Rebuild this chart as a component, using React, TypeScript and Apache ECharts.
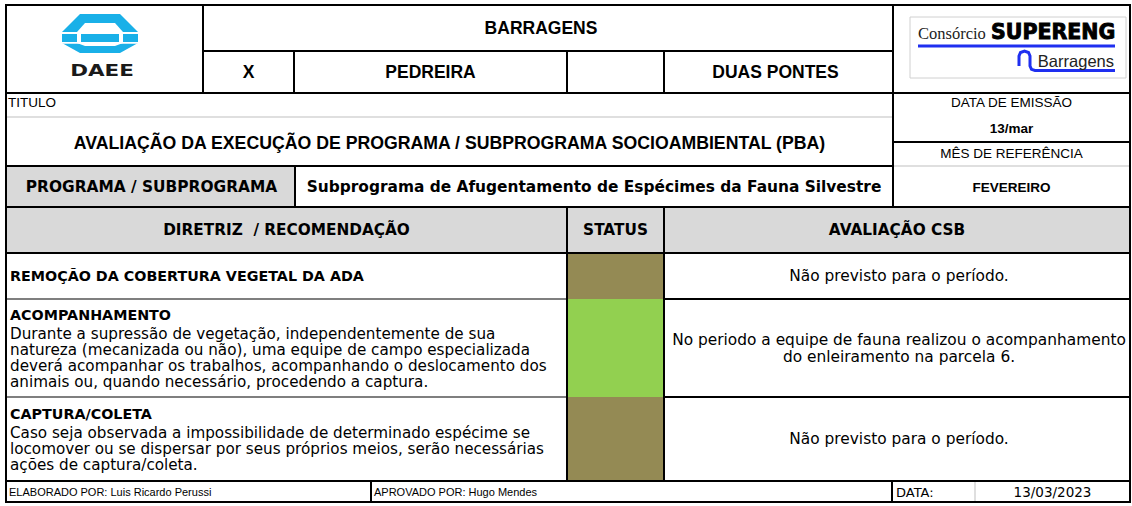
import React, { useEffect, useRef } from "react";
import * as echarts from "echarts";

// ---------- content ----------
const topHeader = "BARRAGENS";
const damOptions = ["X", "PEDREIRA", "", "DUAS PONTES"];
const titleLabel = "TITULO";
const titleText = "AVALIAÇÃO DA EXECUÇÃO DE PROGRAMA / SUBPROGRAMA SOCIOAMBIENTAL (PBA)";
const sideLabels = ["DATA DE EMISSÃO", "13/mar", "MÊS DE REFERÊNCIA", "FEVEREIRO"];
const programLabel = "PROGRAMA / SUBPROGRAMA";
const programName = "Subprograma de Afugentamento de Espécimes da Fauna Silvestre";
const columnHeaders = ["DIRETRIZ  / RECOMENDAÇÃO", "STATUS", "AVALIAÇÃO CSB"];
const rowTitles = ["REMOÇÃO DA COBERTURA VEGETAL DA ADA", "ACOMPANHAMENTO", "CAPTURA/COLETA"];
const rowBodies: string[][] = [
  [],
  [
    "Durante a supressão de vegetação, independentemente de sua",
    "natureza (mecanizada ou não), uma equipe de campo especializada",
    "deverá acompanhar os trabalhos, acompanhando o deslocamento dos",
    "animais ou, quando necessário, procedendo a captura.",
  ],
  [
    "Caso seja observada a impossibilidade de determinado espécime se",
    "locomover ou se dispersar por seus próprios meios, serão necessárias",
    "ações de captura/coleta.",
  ],
];
const rowStatus = ["naoPrevisto", "realizado", "naoPrevisto"];
const rowEvaluation: string[][] = [
  ["Não previsto para o período."],
  ["No periodo a equipe de fauna realizou o acompanhamento", "do enleiramento na parcela 6."],
  ["Não previsto para o período."],
];
const footerTexts = ["ELABORADO POR: Luis Ricardo Perussi", "APROVADO POR: Hugo Mendes", "DATA:", "13/03/2023"];
const logoLeftText = "DAEE";
const logoRightTexts = ["Consórcio", "SUPERENG", "Barragens"];

// ---------- layout ----------
const W = 1132;
const H = 506;
const X0 = 6, X1 = 1130;
const colDaee = 203, colX = 294, colProg = 295, colStatusL = 567, colStatusR = 664, colRight = 893;
const rowY = [253, 299, 397, 481];
const STATUS_COLORS: Record<string, string> = { naoPrevisto: "#948A54", realizado: "#92D050" };
const ARIAL = '"Liberation Sans", Arial, sans-serif';
const VERDANA = '"DejaVu Sans", Verdana, sans-serif';
const SERIF = '"Liberation Serif", "Times New Roman", serif';

function txt(x: number, y: number, text: string, font: string, align = "center", extra: any = {}) {
  return {
    type: "text",
    x,
    y,
    silent: true,
    ...extra,
    style: {
      text,
      font,
      fill: extra.fill || "#000",
      align,
      verticalAlign: "middle",
      textAlign: align,
      textVerticalAlign: "middle",
      ...(extra.style || {}),
    },
  };
}
function ln(x1: number, y1: number, x2: number, y2: number, stroke = "#000", lineWidth = 2) {
  return { type: "line", silent: true, shape: { x1, y1, x2, y2 }, style: { stroke, lineWidth } };
}
function box(x: number, y: number, w: number, h: number, fill: string) {
  return { type: "rect", silent: true, shape: { x, y, width: w, height: h }, style: { fill } };
}

function buildGraphic() {
  const g: any[] = [];
  g.push(box(0, 0, W, H, "#fff"));
  // fills
  g.push(box(X0, 166, colProg - X0, 41, "#D9D9D9"));
  g.push(box(X0, 207, X1 - X0, 46, "#D9D9D9"));
  rowStatus.forEach((s, i) => {
    g.push(box(colStatusL, rowY[i], colStatusR - colStatusL, rowY[i + 1] - rowY[i], STATUS_COLORS[s]));
  });

  // light / gray lines
  g.push(ln(X0, 117, colRight, 117, "#D4D4D4", 1.5));
  g.push(ln(colRight, 166, X1, 166, "#D4D4D4", 1.5));
  g.push(ln(975, 481, 975, 502, "#D4D4D4", 1.5));
  g.push(ln(X0, rowY[1], colStatusL, rowY[1], "#7F7F7F", 2));
  g.push(ln(X0, rowY[2], colStatusL, rowY[2], "#7F7F7F", 2));

  // black lines
  const hl: number[][] = [
    [X0, 5, X1, 5], [colDaee, 51, colRight, 51], [X0, 93, X1, 93], [X0, 166, colRight, 166],
    [colRight, 142, X1, 142], [X0, 207, X1, 207], [X0, 253, X1, 253],
    [colStatusR, rowY[1], X1, rowY[1]], [colStatusR, rowY[2], X1, rowY[2]],
    [X0, 481, X1, 481], [X0, 502, X1, 502],
  ];
  const vl: number[][] = [
    [X0, 4, X0, 503], [X1, 4, X1, 503], [colDaee, 5, colDaee, 93], [colX, 51, colX, 93],
    [colStatusL, 51, colStatusL, 93], [colStatusR, 51, colStatusR, 93], [colRight, 5, colRight, 207],
    [colProg, 166, colProg, 207], [colStatusL, 207, colStatusL, 481], [colStatusR, 207, colStatusR, 481],
    [371, 481, 371, 502], [892, 481, 892, 502],
  ];
  hl.forEach((l) => g.push(ln(l[0], l[1], l[2], l[3])));
  vl.forEach((l) => g.push(ln(l[0], l[1], l[2], l[3])));

  // header texts
  g.push(txt(541, 28, topHeader, `bold 17.5px ${ARIAL}`));
  const optCenters = [(colDaee + colX) / 2, (colX + colStatusL) / 2, (colStatusL + colStatusR) / 2, (colStatusR + colRight) / 2 - 3];
  damOptions.forEach((t, i) => {
    if (t) g.push(txt(optCenters[i], 72, t, `bold 17.5px ${ARIAL}`));
  });
  g.push(txt(8, 102, titleLabel, `13.5px ${ARIAL}`, "left"));
  g.push(txt((X0 + colRight) / 2, 143, titleText, `bold 17.7px ${ARIAL}`));
  const sideY = [102, 128, 153, 187];
  const sideBold = [false, true, false, true];
  sideLabels.forEach((t, i) => {
    g.push(txt((colRight + X1) / 2, sideY[i], t, `${sideBold[i] ? "bold " : ""}13.5px ${ARIAL}`));
  });
  g.push(txt((X0 + colProg) / 2 + 1, 187, programLabel, `bold 15.4px ${VERDANA}`));
  g.push(txt((colProg + colRight) / 2, 187, programName, `bold 15.4px ${VERDANA}`));
  const hdrCenters = [(X0 + colStatusL) / 2, (colStatusL + colStatusR) / 2, (colStatusR + X1) / 2];
  columnHeaders.forEach((t, i) => g.push(txt(hdrCenters[i], 230, t, `bold 15.3px ${VERDANA}`)));

  // body rows
  rowTitles.forEach((t, i) => {
    const top = rowY[i];
    const bottom = rowY[i + 1];
    const center = (top + bottom) / 2;
    const body = rowBodies[i];
    const span = body.length ? 19 + 16 * (body.length - 1) : 0;
    const y0 = center - span / 2;
    g.push(txt(10, y0, t, `bold 14.3px ${VERDANA}`, "left"));
    body.forEach((b, j) => g.push(txt(10, y0 + 19 + 16 * j, b, `15.2px ${VERDANA}`, "left")));
    const ev = rowEvaluation[i];
    const evSpan = 17 * (ev.length - 1);
    ev.forEach((e, j) =>
      g.push(txt((colStatusR + X1) / 2 + 2, center - evSpan / 2 + 17 * j, e, `15.4px ${VERDANA}`))
    );
  });

  // footer
  g.push(txt(9, 492, footerTexts[0], `11px ${ARIAL}`, "left"));
  g.push(txt(374, 492, footerTexts[1], `11px ${ARIAL}`, "left"));
  g.push(txt(896, 492, footerTexts[2], `13px ${VERDANA}`, "left"));
  g.push(txt((975 + X1) / 2, 492, footerTexts[3], `13.5px ${VERDANA}`));

  // DAEE logo
  const cyan = "#19B0E8";
  g.push({ type: "polygon", silent: true, shape: { points: [[80, 14], [120, 14], [138, 32], [138, 43], [120, 53], [80, 53], [62, 43], [62, 32]] }, style: { fill: cyan } });
  g.push({ type: "polygon", silent: true, shape: { points: [[85, 23], [115, 23], [123, 32], [123, 43], [115, 46], [85, 46], [77, 43], [77, 32]] }, style: { fill: "#fff" } });
  g.push(box(81, 34, 38, 8, cyan));
  g.push(box(58, 32, 84, 2, "#fff"));
  g.push(box(58, 42, 84, 1.8, "#fff"));
  g.push(txt(102, 71, logoLeftText, `bold 15px ${VERDANA}`, "center", { scaleX: 1.43, fill: "#1a1a1a" }));

  // SUPERENG logo
  const blue = "#1F2FF0";
  g.push({ type: "rect", silent: true, shape: { x: 910, y: 17, width: 216, height: 61 }, style: { fill: "#fff", stroke: "#D0D0D0", lineWidth: 1 } });
  g.push(txt(918, 33, logoRightTexts[0], `16.5px ${SERIF}`, "left", { fill: "#222" }));
  g.push(txt(991, 32, logoRightTexts[1], `bold 20.5px ${VERDANA}`, "left", { style: { stroke: "#000", lineWidth: 0.9 } }));
  g.push(ln(918, 46, 1115, 46, blue, 3));
  g.push({
    type: "polyline", silent: true,
    shape: { points: [[1019, 66], [1019, 56], [1020.5, 52.5], [1024.5, 51], [1028.5, 52.5], [1030, 56], [1030, 66], [1031.5, 69.3], [1035, 70.5], [1115, 70.5]] },
    style: { stroke: blue, lineWidth: 3, fill: null },
  });
  g.push(txt(1114, 61, logoRightTexts[2], `16.5px ${ARIAL}`, "right", { fill: "#222" }));

  return g;
}

export default function App() {
  const ref = useRef<HTMLDivElement>(null);
  useEffect(() => {
    document.body.style.margin = "0";
    if (!ref.current) return;
    const chart = echarts.init(ref.current, undefined, { renderer: "svg" });
    chart.setOption({ animation: false, backgroundColor: "#fff", graphic: { elements: buildGraphic() } });
    return () => chart.dispose();
  }, []);
  return <div ref={ref} style={{ width: W, height: H }} />;
}
